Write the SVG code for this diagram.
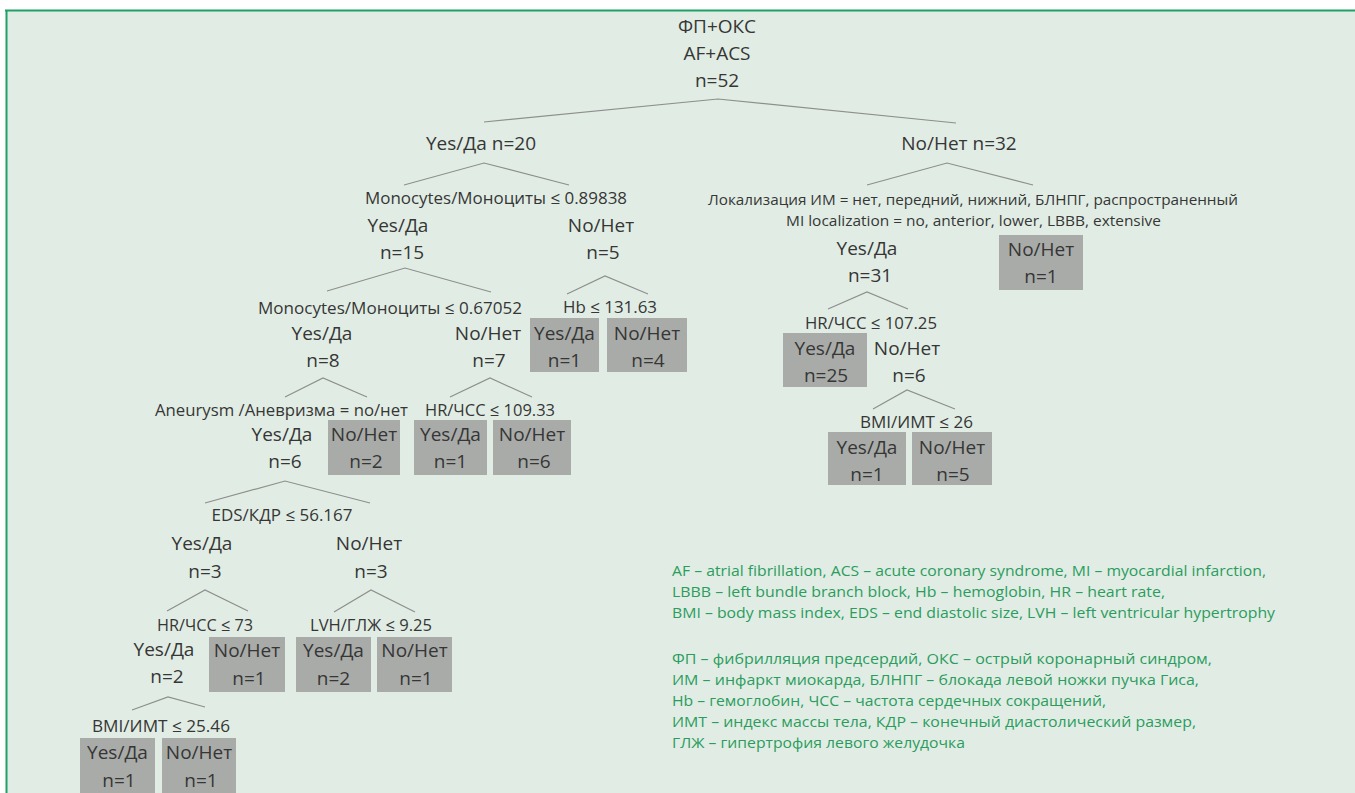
<svg xmlns="http://www.w3.org/2000/svg" width="1355" height="793" viewBox="0 0 1355 793">
<style>
.t{font-family:"Open Sans","Noto Sans","Liberation Sans",sans-serif;font-size:19px;fill:#363636;text-anchor:middle}
.c{font-family:"Open Sans","Noto Sans","Liberation Sans",sans-serif;font-size:17px;fill:#363636;text-anchor:middle}
.cs{font-family:"Open Sans","Noto Sans","Liberation Sans",sans-serif;font-size:15px;fill:#363636;text-anchor:middle}
.bx{fill:#a9aba8}
.ln{fill:none;stroke:#8e8e8e;stroke-width:1.2}
.lg{font-family:"Open Sans","Noto Sans","Liberation Sans",sans-serif;font-size:15px;fill:#2b9c5e}
</style>
<rect x="0" y="0" width="1355" height="793" fill="#ffffff"/>
<rect x="6" y="10" width="1349" height="783" fill="#e1ede4"/>
<line x1="5" y1="10.5" x2="1355" y2="10.5" stroke="#21a065" stroke-width="2"/>
<line x1="6.5" y1="10" x2="6.5" y2="793" stroke="#21a065" stroke-width="2"/>

<g id="connectors" class="ln">
<polyline points="484,122 718,99 956,123"/>
<polyline points="404,185 484,163 569,185"/>
<polyline points="867,185 947,163 1033,185"/>
<polyline points="327,291 405,268 491,292"/>
<polyline points="567,294 605,276 648,294"/>
<polyline points="285,397 323,378 367,397"/>
<polyline points="450,397 490,378 532,397"/>
<polyline points="205,503 285,481 370,503"/>
<polyline points="167,611 205,590 248,611"/>
<polyline points="334,612 371,590 415,612"/>
<polyline points="132,710 168,697 205,707"/>
<polyline points="828,309 867,292 908,309"/>
<polyline points="873,409 907,390 955,409"/>
</g>

<g id="root"><text class="t" x="717" y="33">ФП+ОКС</text><text class="t" x="717" y="60">AF+ACS</text><text class="t" x="717" y="87">n=52</text></g>
<g id="n-yes20"><text class="t" x="481" y="150">Yes/Да n=20</text></g>
<g id="n-no32"><text class="t" x="959" y="150">No/Нет n=32</text></g>

<g id="s-mono1"><text class="c" x="496" y="204" textLength="262" lengthAdjust="spacingAndGlyphs">Monocytes/Моноциты ≤ 0.89838</text></g>
<g id="n-yes15"><text class="t" x="398" y="232">Yes/Да</text><text class="t" x="402" y="259">n=15</text></g>
<g id="n-no5"><text class="t" x="601" y="232">No/Нет</text><text class="t" x="603" y="259">n=5</text></g>

<g id="s-mono2"><text class="c" x="390" y="314" textLength="264" lengthAdjust="spacingAndGlyphs">Monocytes/Моноциты ≤ 0.67052</text></g>
<g id="s-hb"><text class="c" x="610" y="313" textLength="94" lengthAdjust="spacingAndGlyphs">Hb ≤ 131.63</text></g>
<g id="n-yes8"><text class="t" x="322" y="340">Yes/Да</text><text class="t" x="323" y="367">n=8</text></g>
<g id="n-no7"><text class="t" x="488" y="340">No/Нет</text><text class="t" x="489" y="367">n=7</text></g>
<g id="n-hb-yes"><rect class="bx" x="530" y="318" width="69" height="54"/><text class="t" x="564.5" y="340">Yes/Да</text><text class="t" x="564.5" y="367">n=1</text></g>
<g id="n-hb-no"><rect class="bx" x="607" y="318" width="80" height="54"/><text class="t" x="647" y="340">No/Нет</text><text class="t" x="648" y="367">n=4</text></g>

<g id="s-aneur"><text class="c" x="281.5" y="416" textLength="253" lengthAdjust="spacingAndGlyphs">Aneurysm /Аневризма = no/нет</text></g>
<g id="s-hr109"><text class="c" x="490" y="416" textLength="130" lengthAdjust="spacingAndGlyphs">HR/ЧСС ≤ 109.33</text></g>
<g id="n-yes6"><text class="t" x="282" y="441">Yes/Да</text><text class="t" x="285" y="468">n=6</text></g>
<g id="n-an-no"><rect class="bx" x="328" y="420" width="72" height="55"/><text class="t" x="364" y="441">No/Нет</text><text class="t" x="366" y="468">n=2</text></g>
<g id="n-hr109-yes"><rect class="bx" x="414" y="420" width="73" height="55"/><text class="t" x="450.5" y="441">Yes/Да</text><text class="t" x="450.5" y="468">n=1</text></g>
<g id="n-hr109-no"><rect class="bx" x="493" y="420" width="78" height="55"/><text class="t" x="532" y="441">No/Нет</text><text class="t" x="534" y="468">n=6</text></g>

<g id="s-eds"><text class="c" x="282" y="521" textLength="141" lengthAdjust="spacingAndGlyphs">EDS/КДР ≤ 56.167</text></g>
<g id="n-eds-yes"><text class="t" x="202" y="550">Yes/Да</text><text class="t" x="205" y="578">n=3</text></g>
<g id="n-eds-no"><text class="t" x="369" y="550">No/Нет</text><text class="t" x="371" y="578">n=3</text></g>

<g id="s-hr73"><text class="c" x="205" y="631" textLength="96" lengthAdjust="spacingAndGlyphs">HR/ЧСС ≤ 73</text></g>
<g id="s-lvh"><text class="c" x="371" y="631" textLength="122" lengthAdjust="spacingAndGlyphs">LVH/ГЛЖ ≤ 9.25</text></g>
<g id="n-hr73-yes"><text class="t" x="164" y="656">Yes/Да</text><text class="t" x="167" y="683">n=2</text></g>
<g id="n-hr73-no"><rect class="bx" x="209" y="637" width="76" height="55"/><text class="t" x="247" y="657">No/Нет</text><text class="t" x="249" y="685">n=1</text></g>
<g id="n-lvh-yes"><rect class="bx" x="296" y="637" width="75" height="55"/><text class="t" x="333.5" y="657">Yes/Да</text><text class="t" x="333.5" y="685">n=2</text></g>
<g id="n-lvh-no"><rect class="bx" x="377" y="637" width="75" height="55"/><text class="t" x="414.5" y="657">No/Нет</text><text class="t" x="416" y="685">n=1</text></g>

<g id="s-bmi25"><text class="c" x="161" y="732" textLength="138" lengthAdjust="spacingAndGlyphs">BMI/ИМТ ≤ 25.46</text></g>
<g id="n-bmi25-yes"><rect class="bx" x="80" y="738" width="75" height="56"/><text class="t" x="117.5" y="759">Yes/Да</text><text class="t" x="119" y="787">n=1</text></g>
<g id="n-bmi25-no"><rect class="bx" x="162" y="738" width="74" height="56"/><text class="t" x="199" y="759">No/Нет</text><text class="t" x="201" y="787">n=1</text></g>

<g id="s-loc"><text class="cs" x="973" y="205" textLength="530" lengthAdjust="spacingAndGlyphs">Локализация ИМ = нет, передний, нижний, БЛНПГ, распространенный</text><text class="cs" x="973.5" y="226" textLength="375" lengthAdjust="spacingAndGlyphs">MI localization = no, anterior, lower, LBBB, extensive</text></g>
<g id="n-loc-yes"><text class="t" x="867" y="255">Yes/Да</text><text class="t" x="870" y="282">n=31</text></g>
<g id="n-loc-no"><rect class="bx" x="999" y="235" width="84" height="55"/><text class="t" x="1041" y="256">No/Нет</text><text class="t" x="1041" y="283">n=1</text></g>

<g id="s-hr107"><text class="c" x="871" y="329" textLength="132" lengthAdjust="spacingAndGlyphs">HR/ЧСС ≤ 107.25</text></g>
<g id="n-hr107-yes"><rect class="bx" x="783" y="333" width="84" height="54"/><text class="t" x="825" y="355">Yes/Да</text><text class="t" x="826" y="382">n=25</text></g>
<g id="n-hr107-no"><text class="t" x="907" y="355">No/Нет</text><text class="t" x="909" y="382">n=6</text></g>

<g id="s-bmi26"><text class="c" x="916.5" y="428" textLength="113" lengthAdjust="spacingAndGlyphs">BMI/ИМТ ≤ 26</text></g>
<g id="n-bmi26-yes"><rect class="bx" x="828" y="432" width="78" height="53"/><text class="t" x="867" y="454">Yes/Да</text><text class="t" x="867" y="481">n=1</text></g>
<g id="n-bmi26-no"><rect class="bx" x="912" y="432" width="80" height="53"/><text class="t" x="952" y="454">No/Нет</text><text class="t" x="953" y="481">n=5</text></g>

<g id="legend">
<text class="lg" x="672" y="576" textLength="594" lengthAdjust="spacingAndGlyphs">AF – atrial fibrillation, ACS – acute coronary syndrome, MI – myocardial infarction,</text>
<text class="lg" x="672" y="597" textLength="493" lengthAdjust="spacingAndGlyphs">LBBB – left bundle branch block, Hb – hemoglobin, HR – heart rate,</text>
<text class="lg" x="672" y="618" textLength="603" lengthAdjust="spacingAndGlyphs">BMI – body mass index, EDS – end diastolic size, LVH – left ventricular hypertrophy</text>
<text class="lg" x="672" y="664" textLength="540" lengthAdjust="spacingAndGlyphs">ФП – фибрилляция предсердий, ОКС – острый коронарный синдром,</text>
<text class="lg" x="672" y="685" textLength="527" lengthAdjust="spacingAndGlyphs">ИМ – инфаркт миокарда, БЛНПГ – блокада левой ножки пучка Гиса,</text>
<text class="lg" x="672" y="706" textLength="434" lengthAdjust="spacingAndGlyphs">Hb – гемоглобин, ЧСС – частота сердечных сокращений,</text>
<text class="lg" x="672" y="727" textLength="524" lengthAdjust="spacingAndGlyphs">ИМТ – индекс массы тела, КДР – конечный диастолический размер,</text>
<text class="lg" x="672" y="748" textLength="293" lengthAdjust="spacingAndGlyphs">ГЛЖ – гипертрофия левого желудочка</text>
</g>
</svg>
